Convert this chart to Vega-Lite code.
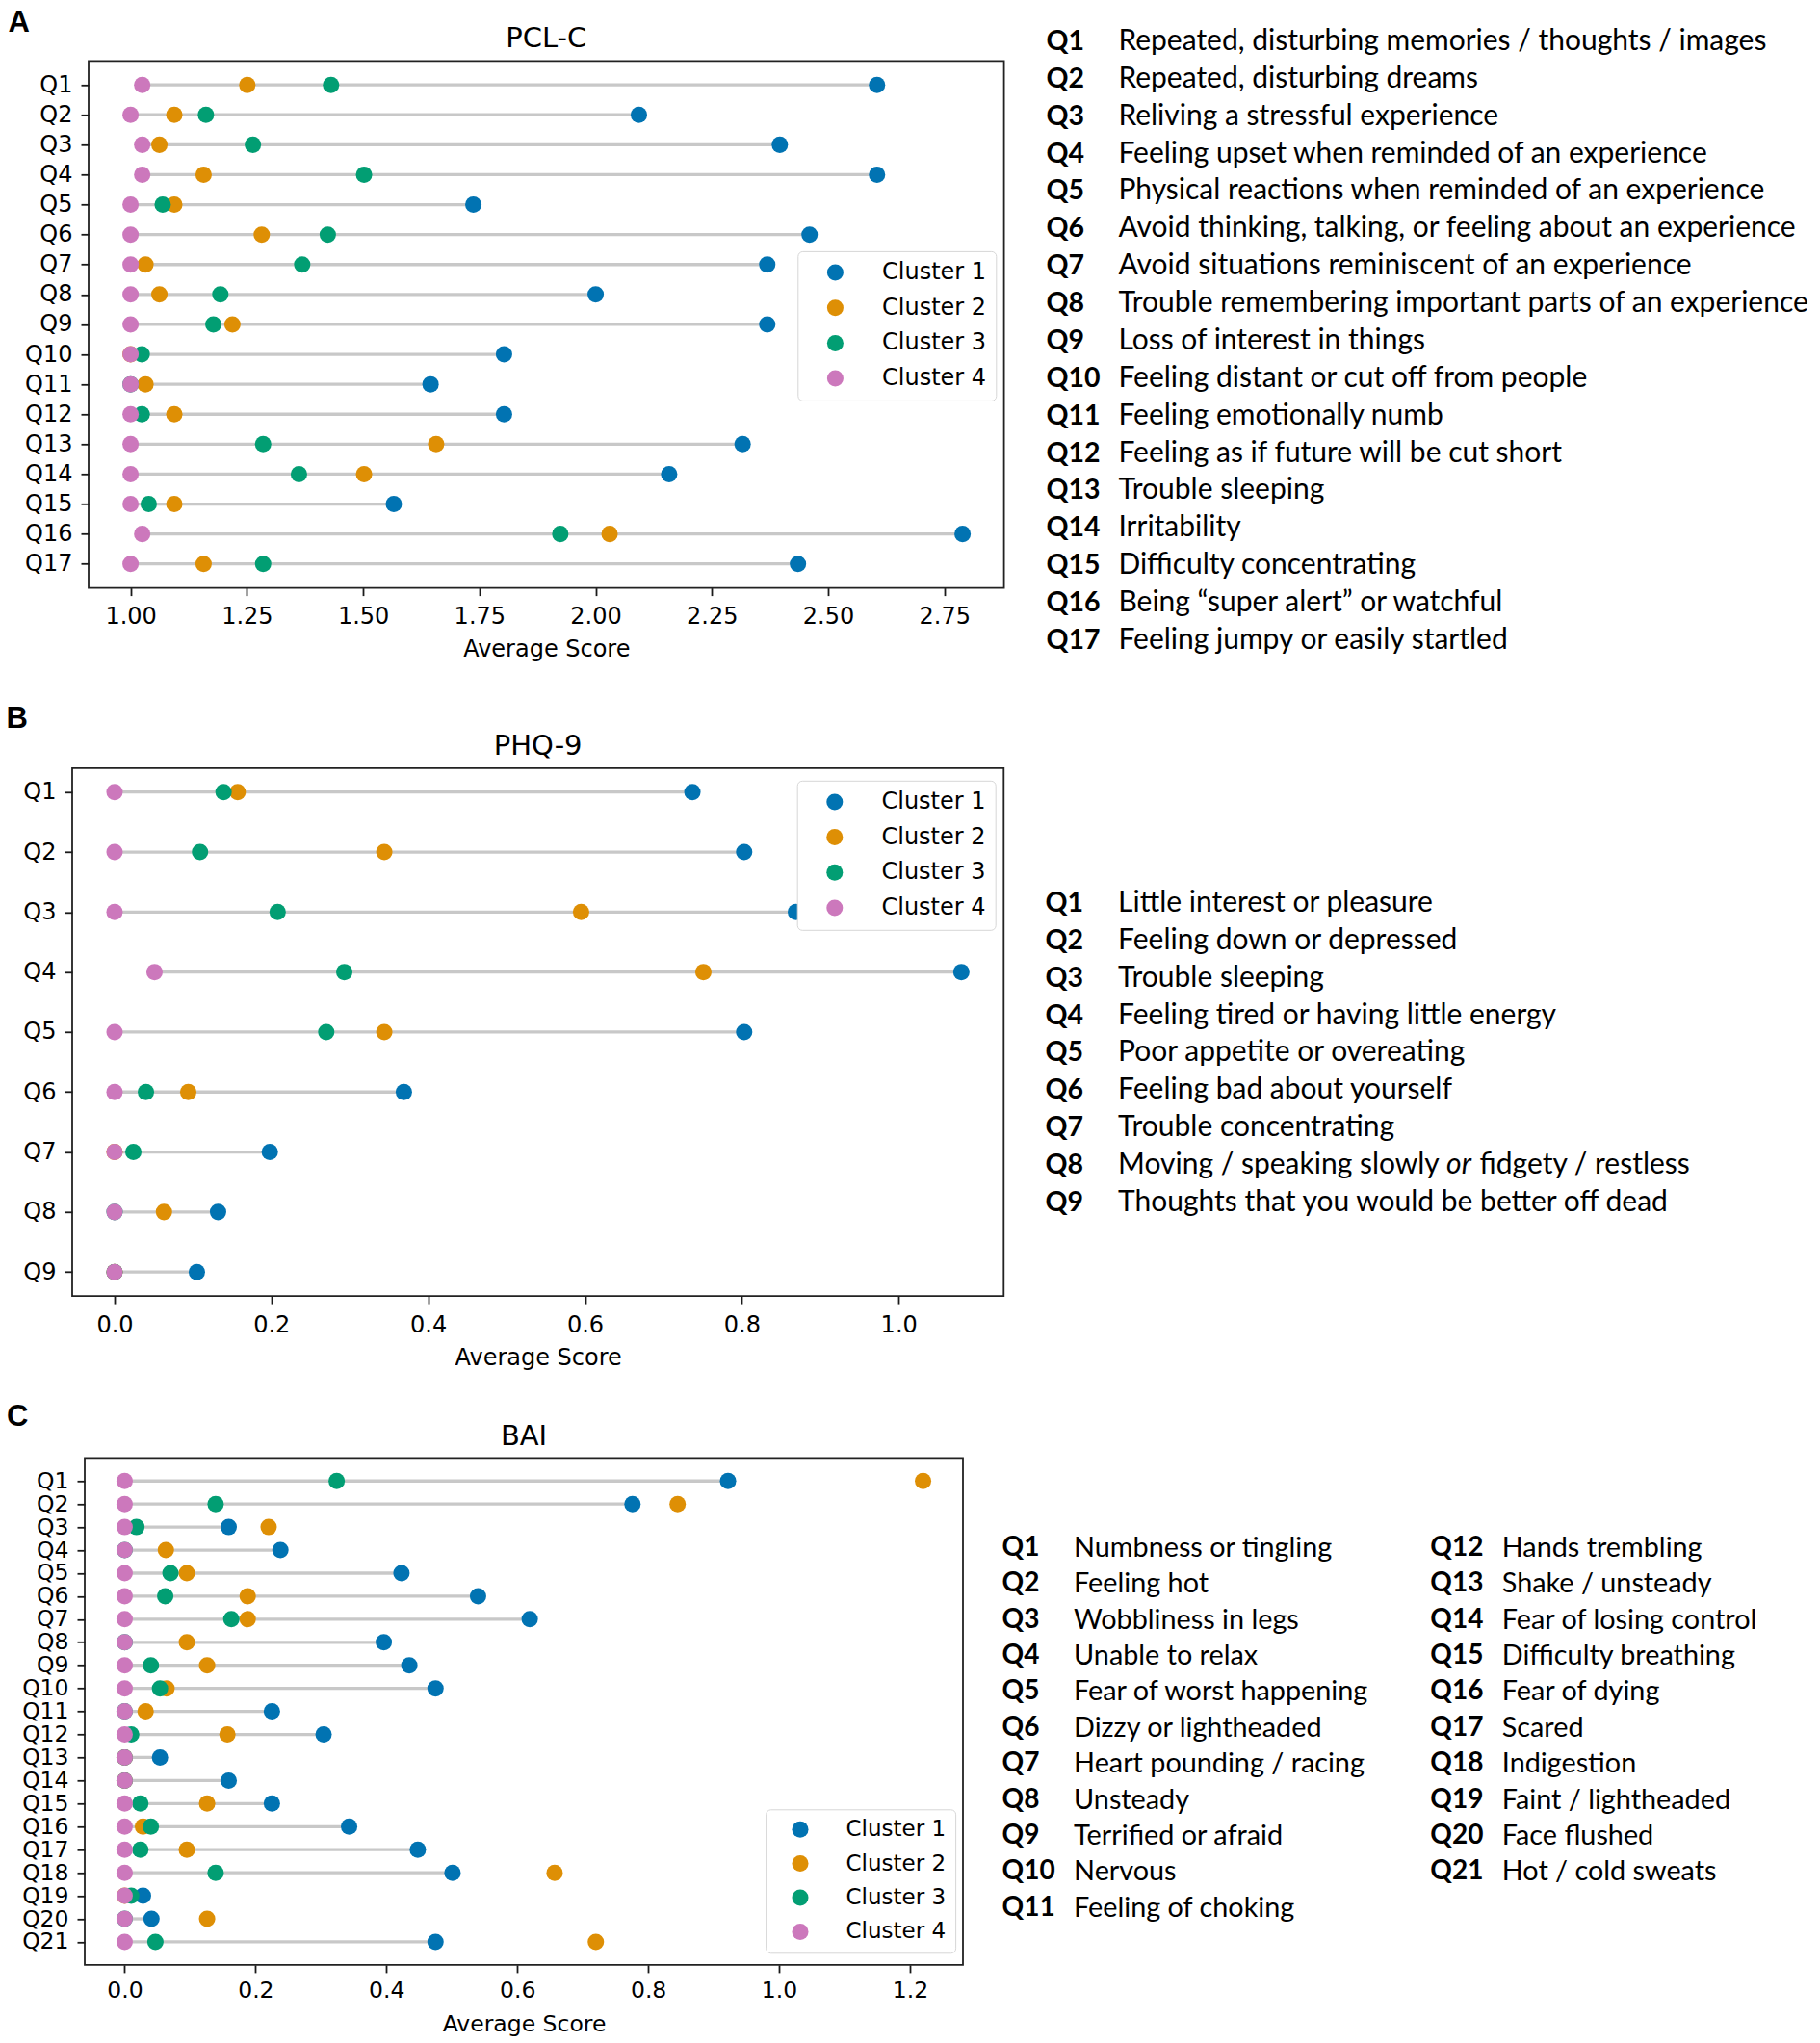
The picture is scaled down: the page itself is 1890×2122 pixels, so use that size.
{
"$schema":"https://vega.github.io/schema/vega-lite/v6.json",
"background":"white",
"padding":{"top":6.3,"left":0,"right":0,"bottom":0},
"config":{
 "font":"DejaVu Sans",
 "view":{"stroke":null},
 "axis":{"labelFont":"DejaVu Sans","labelFontSize":24,"labelColor":"#000","tickColor":"#1a1a1a","tickWidth":1.8,"tickSize":8,"domain":false,"grid":false,"titleFont":"DejaVu Sans","titleFontSize":24,"titleColor":"#000","titleFontWeight":"normal","labelOverlap":false,"labelFlush":false,"labelBound":false},
 "legend":{"title":null,"orient":"none","labelFont":"DejaVu Sans","labelColor":"#000","symbolType":"circle","symbolSize":290,"symbolStrokeWidth":0,"symbolOpacity":1,"fillColor":"white","strokeColor":"#d6d6d6","cornerRadius":5},
 "title":{"font":"DejaVu Sans","fontSize":29,"fontWeight":"normal","color":"#000","anchor":"middle","frame":"group","baseline":"alphabetic"}
},
"datasets":{
 "spacer":[{"s":0}],
 "pcl":[
  {"q":"Q1","cluster":"Cluster 1","score":2.605},{"q":"Q1","cluster":"Cluster 2","score":1.251},{"q":"Q1","cluster":"Cluster 3","score":1.431},{"q":"Q1","cluster":"Cluster 4","score":1.025},
  {"q":"Q2","cluster":"Cluster 1","score":2.093},{"q":"Q2","cluster":"Cluster 2","score":1.094},{"q":"Q2","cluster":"Cluster 3","score":1.162},{"q":"Q2","cluster":"Cluster 4","score":1.0},
  {"q":"Q3","cluster":"Cluster 1","score":2.396},{"q":"Q3","cluster":"Cluster 2","score":1.062},{"q":"Q3","cluster":"Cluster 3","score":1.263},{"q":"Q3","cluster":"Cluster 4","score":1.025},
  {"q":"Q4","cluster":"Cluster 1","score":2.605},{"q":"Q4","cluster":"Cluster 2","score":1.157},{"q":"Q4","cluster":"Cluster 3","score":1.502},{"q":"Q4","cluster":"Cluster 4","score":1.025},
  {"q":"Q5","cluster":"Cluster 1","score":1.737},{"q":"Q5","cluster":"Cluster 2","score":1.094},{"q":"Q5","cluster":"Cluster 3","score":1.069},{"q":"Q5","cluster":"Cluster 4","score":1.0},
  {"q":"Q6","cluster":"Cluster 1","score":2.46},{"q":"Q6","cluster":"Cluster 2","score":1.282},{"q":"Q6","cluster":"Cluster 3","score":1.424},{"q":"Q6","cluster":"Cluster 4","score":1.0},
  {"q":"Q7","cluster":"Cluster 1","score":2.369},{"q":"Q7","cluster":"Cluster 2","score":1.032},{"q":"Q7","cluster":"Cluster 3","score":1.369},{"q":"Q7","cluster":"Cluster 4","score":1.0},
  {"q":"Q8","cluster":"Cluster 1","score":2.0},{"q":"Q8","cluster":"Cluster 2","score":1.062},{"q":"Q8","cluster":"Cluster 3","score":1.193},{"q":"Q8","cluster":"Cluster 4","score":1.0},
  {"q":"Q9","cluster":"Cluster 1","score":2.369},{"q":"Q9","cluster":"Cluster 2","score":1.219},{"q":"Q9","cluster":"Cluster 3","score":1.178},{"q":"Q9","cluster":"Cluster 4","score":1.0},
  {"q":"Q10","cluster":"Cluster 1","score":1.803},{"q":"Q10","cluster":"Cluster 2","score":1.0},{"q":"Q10","cluster":"Cluster 3","score":1.024},{"q":"Q10","cluster":"Cluster 4","score":1.0},
  {"q":"Q11","cluster":"Cluster 1","score":1.645},{"q":"Q11","cluster":"Cluster 2","score":1.032},{"q":"Q11","cluster":"Cluster 3","score":1.0},{"q":"Q11","cluster":"Cluster 4","score":1.0},
  {"q":"Q12","cluster":"Cluster 1","score":1.803},{"q":"Q12","cluster":"Cluster 2","score":1.094},{"q":"Q12","cluster":"Cluster 3","score":1.024},{"q":"Q12","cluster":"Cluster 4","score":1.0},
  {"q":"Q13","cluster":"Cluster 1","score":2.316},{"q":"Q13","cluster":"Cluster 2","score":1.657},{"q":"Q13","cluster":"Cluster 3","score":1.285},{"q":"Q13","cluster":"Cluster 4","score":1.0},
  {"q":"Q14","cluster":"Cluster 1","score":2.158},{"q":"Q14","cluster":"Cluster 2","score":1.502},{"q":"Q14","cluster":"Cluster 3","score":1.362},{"q":"Q14","cluster":"Cluster 4","score":1.0},
  {"q":"Q15","cluster":"Cluster 1","score":1.566},{"q":"Q15","cluster":"Cluster 2","score":1.094},{"q":"Q15","cluster":"Cluster 3","score":1.039},{"q":"Q15","cluster":"Cluster 4","score":1.0},
  {"q":"Q16","cluster":"Cluster 1","score":2.789},{"q":"Q16","cluster":"Cluster 2","score":2.03},{"q":"Q16","cluster":"Cluster 3","score":1.924},{"q":"Q16","cluster":"Cluster 4","score":1.025},
  {"q":"Q17","cluster":"Cluster 1","score":2.435},{"q":"Q17","cluster":"Cluster 2","score":1.157},{"q":"Q17","cluster":"Cluster 3","score":1.285},{"q":"Q17","cluster":"Cluster 4","score":1.0}
 ],
 "phq":[
  {"q":"Q1","cluster":"Cluster 1","score":0.737},{"q":"Q1","cluster":"Cluster 2","score":0.157},{"q":"Q1","cluster":"Cluster 3","score":0.139},{"q":"Q1","cluster":"Cluster 4","score":0.0},
  {"q":"Q2","cluster":"Cluster 1","score":0.803},{"q":"Q2","cluster":"Cluster 2","score":0.344},{"q":"Q2","cluster":"Cluster 3","score":0.109},{"q":"Q2","cluster":"Cluster 4","score":0.0},
  {"q":"Q3","cluster":"Cluster 1","score":0.869},{"q":"Q3","cluster":"Cluster 2","score":0.595},{"q":"Q3","cluster":"Cluster 3","score":0.208},{"q":"Q3","cluster":"Cluster 4","score":0.0},
  {"q":"Q4","cluster":"Cluster 1","score":1.08},{"q":"Q4","cluster":"Cluster 2","score":0.751},{"q":"Q4","cluster":"Cluster 3","score":0.293},{"q":"Q4","cluster":"Cluster 4","score":0.051},
  {"q":"Q5","cluster":"Cluster 1","score":0.803},{"q":"Q5","cluster":"Cluster 2","score":0.344},{"q":"Q5","cluster":"Cluster 3","score":0.27},{"q":"Q5","cluster":"Cluster 4","score":0.0},
  {"q":"Q6","cluster":"Cluster 1","score":0.369},{"q":"Q6","cluster":"Cluster 2","score":0.094},{"q":"Q6","cluster":"Cluster 3","score":0.04},{"q":"Q6","cluster":"Cluster 4","score":0.0},
  {"q":"Q7","cluster":"Cluster 1","score":0.198},{"q":"Q7","cluster":"Cluster 2","score":0.0},{"q":"Q7","cluster":"Cluster 3","score":0.024},{"q":"Q7","cluster":"Cluster 4","score":0.0},
  {"q":"Q8","cluster":"Cluster 1","score":0.132},{"q":"Q8","cluster":"Cluster 2","score":0.063},{"q":"Q8","cluster":"Cluster 3","score":0.0},{"q":"Q8","cluster":"Cluster 4","score":0.0},
  {"q":"Q9","cluster":"Cluster 1","score":0.105},{"q":"Q9","cluster":"Cluster 2","score":0.0},{"q":"Q9","cluster":"Cluster 3","score":0.0},{"q":"Q9","cluster":"Cluster 4","score":0.0}
 ],
 "bai":[
  {"q":"Q1","cluster":"Cluster 1","score":0.922},{"q":"Q1","cluster":"Cluster 2","score":1.22},{"q":"Q1","cluster":"Cluster 3","score":0.324},{"q":"Q1","cluster":"Cluster 4","score":0.0},
  {"q":"Q2","cluster":"Cluster 1","score":0.776},{"q":"Q2","cluster":"Cluster 2","score":0.845},{"q":"Q2","cluster":"Cluster 3","score":0.139},{"q":"Q2","cluster":"Cluster 4","score":0.0},
  {"q":"Q3","cluster":"Cluster 1","score":0.159},{"q":"Q3","cluster":"Cluster 2","score":0.22},{"q":"Q3","cluster":"Cluster 3","score":0.018},{"q":"Q3","cluster":"Cluster 4","score":0.0},
  {"q":"Q4","cluster":"Cluster 1","score":0.238},{"q":"Q4","cluster":"Cluster 2","score":0.063},{"q":"Q4","cluster":"Cluster 3","score":0.0},{"q":"Q4","cluster":"Cluster 4","score":0.0},
  {"q":"Q5","cluster":"Cluster 1","score":0.423},{"q":"Q5","cluster":"Cluster 2","score":0.095},{"q":"Q5","cluster":"Cluster 3","score":0.07},{"q":"Q5","cluster":"Cluster 4","score":0.0},
  {"q":"Q6","cluster":"Cluster 1","score":0.54},{"q":"Q6","cluster":"Cluster 2","score":0.188},{"q":"Q6","cluster":"Cluster 3","score":0.062},{"q":"Q6","cluster":"Cluster 4","score":0.0},
  {"q":"Q7","cluster":"Cluster 1","score":0.619},{"q":"Q7","cluster":"Cluster 2","score":0.188},{"q":"Q7","cluster":"Cluster 3","score":0.163},{"q":"Q7","cluster":"Cluster 4","score":0.0},
  {"q":"Q8","cluster":"Cluster 1","score":0.396},{"q":"Q8","cluster":"Cluster 2","score":0.095},{"q":"Q8","cluster":"Cluster 3","score":0.0},{"q":"Q8","cluster":"Cluster 4","score":0.0},
  {"q":"Q9","cluster":"Cluster 1","score":0.435},{"q":"Q9","cluster":"Cluster 2","score":0.126},{"q":"Q9","cluster":"Cluster 3","score":0.04},{"q":"Q9","cluster":"Cluster 4","score":0.0},
  {"q":"Q10","cluster":"Cluster 1","score":0.475},{"q":"Q10","cluster":"Cluster 2","score":0.064},{"q":"Q10","cluster":"Cluster 3","score":0.054},{"q":"Q10","cluster":"Cluster 4","score":0.0},
  {"q":"Q11","cluster":"Cluster 1","score":0.225},{"q":"Q11","cluster":"Cluster 2","score":0.032},{"q":"Q11","cluster":"Cluster 3","score":0.0},{"q":"Q11","cluster":"Cluster 4","score":0.0},
  {"q":"Q12","cluster":"Cluster 1","score":0.304},{"q":"Q12","cluster":"Cluster 2","score":0.157},{"q":"Q12","cluster":"Cluster 3","score":0.01},{"q":"Q12","cluster":"Cluster 4","score":0.0},
  {"q":"Q13","cluster":"Cluster 1","score":0.054},{"q":"Q13","cluster":"Cluster 2","score":0.0},{"q":"Q13","cluster":"Cluster 3","score":0.0},{"q":"Q13","cluster":"Cluster 4","score":0.0},
  {"q":"Q14","cluster":"Cluster 1","score":0.159},{"q":"Q14","cluster":"Cluster 2","score":0.0},{"q":"Q14","cluster":"Cluster 3","score":0.0},{"q":"Q14","cluster":"Cluster 4","score":0.0},
  {"q":"Q15","cluster":"Cluster 1","score":0.225},{"q":"Q15","cluster":"Cluster 2","score":0.126},{"q":"Q15","cluster":"Cluster 3","score":0.024},{"q":"Q15","cluster":"Cluster 4","score":0.0},
  {"q":"Q16","cluster":"Cluster 1","score":0.343},{"q":"Q16","cluster":"Cluster 2","score":0.028},{"q":"Q16","cluster":"Cluster 3","score":0.04},{"q":"Q16","cluster":"Cluster 4","score":0.0},
  {"q":"Q17","cluster":"Cluster 1","score":0.448},{"q":"Q17","cluster":"Cluster 2","score":0.095},{"q":"Q17","cluster":"Cluster 3","score":0.024},{"q":"Q17","cluster":"Cluster 4","score":0.0},
  {"q":"Q18","cluster":"Cluster 1","score":0.501},{"q":"Q18","cluster":"Cluster 2","score":0.657},{"q":"Q18","cluster":"Cluster 3","score":0.139},{"q":"Q18","cluster":"Cluster 4","score":0.0},
  {"q":"Q19","cluster":"Cluster 1","score":0.028},{"q":"Q19","cluster":"Cluster 2","score":0.0},{"q":"Q19","cluster":"Cluster 3","score":0.01},{"q":"Q19","cluster":"Cluster 4","score":0.0},
  {"q":"Q20","cluster":"Cluster 1","score":0.041},{"q":"Q20","cluster":"Cluster 2","score":0.126},{"q":"Q20","cluster":"Cluster 3","score":0.0},{"q":"Q20","cluster":"Cluster 4","score":0.0},
  {"q":"Q21","cluster":"Cluster 1","score":0.475},{"q":"Q21","cluster":"Cluster 2","score":0.72},{"q":"Q21","cluster":"Cluster 3","score":0.047},{"q":"Q21","cluster":"Cluster 4","score":0.0}
 ],
 "pclText":[
  {"code":"Q1","col":1,"row":1,"label":"Repeated, disturbing memories / thoughts / images"},
  {"code":"Q2","col":1,"row":2,"label":"Repeated, disturbing dreams"},
  {"code":"Q3","col":1,"row":3,"label":"Reliving a stressful experience"},
  {"code":"Q4","col":1,"row":4,"label":"Feeling upset when reminded of an experience"},
  {"code":"Q5","col":1,"row":5,"label":"Physical reactions when reminded of an experience"},
  {"code":"Q6","col":1,"row":6,"label":"Avoid thinking, talking, or feeling about an experience"},
  {"code":"Q7","col":1,"row":7,"label":"Avoid situations reminiscent of an experience"},
  {"code":"Q8","col":1,"row":8,"label":"Trouble remembering important parts of an experience"},
  {"code":"Q9","col":1,"row":9,"label":"Loss of interest in things"},
  {"code":"Q10","col":1,"row":10,"label":"Feeling distant or cut off from people"},
  {"code":"Q11","col":1,"row":11,"label":"Feeling emotionally numb"},
  {"code":"Q12","col":1,"row":12,"label":"Feeling as if future will be cut short"},
  {"code":"Q13","col":1,"row":13,"label":"Trouble sleeping"},
  {"code":"Q14","col":1,"row":14,"label":"Irritability"},
  {"code":"Q15","col":1,"row":15,"label":"Difficulty concentrating"},
  {"code":"Q16","col":1,"row":16,"label":"Being “super alert” or watchful"},
  {"code":"Q17","col":1,"row":17,"label":"Feeling jumpy or easily startled"}
 ],
 "phqText":[
  {"code":"Q1","col":1,"row":1,"label":"Little interest or pleasure"},
  {"code":"Q2","col":1,"row":2,"label":"Feeling down or depressed"},
  {"code":"Q3","col":1,"row":3,"label":"Trouble sleeping"},
  {"code":"Q4","col":1,"row":4,"label":"Feeling tired or having little energy"},
  {"code":"Q5","col":1,"row":5,"label":"Poor appetite or overeating"},
  {"code":"Q6","col":1,"row":6,"label":"Feeling bad about yourself"},
  {"code":"Q7","col":1,"row":7,"label":"Trouble concentrating"},
  {"code":"Q8","col":1,"row":8,"label":"Moving / speaking slowly","it":"or","rest":"fidgety / restless"},
  {"code":"Q9","col":1,"row":9,"label":"Thoughts that you would be better off dead"}
 ],
 "baiText":[
  {"code":"Q1","col":1,"row":1,"label":"Numbness or tingling"},
  {"code":"Q2","col":1,"row":2,"label":"Feeling hot"},
  {"code":"Q3","col":1,"row":3,"label":"Wobbliness in legs"},
  {"code":"Q4","col":1,"row":4,"label":"Unable to relax"},
  {"code":"Q5","col":1,"row":5,"label":"Fear of worst happening"},
  {"code":"Q6","col":1,"row":6,"label":"Dizzy or lightheaded"},
  {"code":"Q7","col":1,"row":7,"label":"Heart pounding / racing"},
  {"code":"Q8","col":1,"row":8,"label":"Unsteady"},
  {"code":"Q9","col":1,"row":9,"label":"Terrified or afraid"},
  {"code":"Q10","col":1,"row":10,"label":"Nervous"},
  {"code":"Q11","col":1,"row":11,"label":"Feeling of choking"},
  {"code":"Q12","col":2,"row":1,"label":"Hands trembling"},
  {"code":"Q13","col":2,"row":2,"label":"Shake / unsteady"},
  {"code":"Q14","col":2,"row":3,"label":"Fear of losing control"},
  {"code":"Q15","col":2,"row":4,"label":"Difficulty breathing"},
  {"code":"Q16","col":2,"row":5,"label":"Fear of dying"},
  {"code":"Q17","col":2,"row":6,"label":"Scared"},
  {"code":"Q18","col":2,"row":7,"label":"Indigestion"},
  {"code":"Q19","col":2,"row":8,"label":"Faint / lightheaded"},
  {"code":"Q20","col":2,"row":9,"label":"Face flushed"},
  {"code":"Q21","col":2,"row":10,"label":"Hot / cold sweats"}
 ]
},
"columns":1,
"spacing":28.5,
"resolve":{"scale":{"color":"independent"},"legend":{"color":"independent"}},
"concat":[
 {"spacing":0,"resolve":{"scale":{"color":"independent"},"legend":{"color":"independent"}},"hconcat":[
  {"width":1,"height":1,"data":{"name":"spacer"},"mark":{"type":"text","text":""},"encoding":{}},
  {"width":950.6,"height":547.3,
   "view":{"stroke":"#222","strokeWidth":1.8},
   "title":{"text":"PCL-C","offset":-47.1},
   "data":{"name":"pcl"},
   "encoding":{"y":{"field":"q","type":"nominal","scale":{"type":"point","domain":["Q1","Q2","Q3","Q4","Q5","Q6","Q7","Q8","Q9","Q10","Q11","Q12","Q13","Q14","Q15","Q16","Q17"],"padding":0.8},
     "axis":{"title":"A","titleAngle":0,"titleAlign":"left","titleBaseline":"alphabetic","titleX":-84,"titleY":-30.4,"titleFont":"Liberation Sans","titleFontSize":31,"titleFontWeight":"bold","minExtent":89.7,"maxExtent":89.7,"labelPadding":9}}},
   "layer":[
    {"transform":[{"pivot":"cluster","value":"score","groupby":["q"]}],
     "mark":{"type":"rule","color":"#c8c8c8","strokeWidth":3.3},
     "encoding":{"x":{"field":"Cluster 4","type":"quantitative","scale":{"domain":[0.9097,2.878],"nice":false,"zero":false},"axis":{"title":"Average Score","values":[1,1.25,1.5,1.75,2,2.25,2.5,2.75],"format":".2f","labelPadding":10,"titleY":70.5,"titleBaseline":"alphabetic"}},"x2":{"field":"Cluster 1"}}},
    {"mark":{"type":"point","filled":true,"size":290,"opacity":1,"strokeWidth":0},
     "encoding":{"x":{"field":"score","type":"quantitative","scale":{"domain":[0.9097,2.878],"nice":false,"zero":false},"axis":{"title":"Average Score","values":[1,1.25,1.5,1.75,2,2.25,2.5,2.75],"format":".2f","labelPadding":10,"titleY":70.5,"titleBaseline":"alphabetic"}},
      "color":{"field":"cluster","type":"nominal","scale":{"domain":["Cluster 1","Cluster 2","Cluster 3","Cluster 4"],"range":["#0173b2","#de8f05","#029e73","#cc78bc"]},
       "legend":{"legendX":736.3,"legendY":197.6,"padding":10.1,"rowPadding":12.7,"symbolOffset":17,"labelOffset":36.7,"labelFontSize":24}}}}
   ]},
  {"width":500,"height":636.6,"data":{"name":"pclText"},
   "encoding":{"y":{"field":"row","type":"quantitative","scale":{"domain":[1.5248,17.901],"reverse":true,"nice":false,"zero":false},"axis":null},
     "x":{"field":"col","type":"ordinal","scale":{"type":"point","domain":[1],"padding":0,"align":0.0848},"axis":null}},
   "layer":[
    {"mark":{"type":"text","align":"left","baseline":"middle","font":"Lato","fontWeight":"bold","fontSize":28.5,"color":"#000"},"encoding":{"text":{"field":"code"}}},
    {"mark":{"type":"text","align":"left","baseline":"middle","font":"Lato","fontSize":30,"dx":75,"color":"#000"},"encoding":{"text":{"field":"label"}}}
   ]}
 ]},
 {"spacing":0,"resolve":{"scale":{"color":"independent"},"legend":{"color":"independent"}},"hconcat":[
  {"width":1,"height":1,"data":{"name":"spacer"},"mark":{"type":"text","text":""},"encoding":{}},
  {"width":967.3,"height":548.3,
   "view":{"stroke":"#222","strokeWidth":1.8},
   "title":{"text":"PHQ-9","offset":-59.8},
   "data":{"name":"phq"},
   "encoding":{"y":{"field":"q","type":"nominal","scale":{"type":"point","domain":["Q1","Q2","Q3","Q4","Q5","Q6","Q7","Q8","Q9"],"padding":0.4},
     "axis":{"title":"B","titleAngle":0,"titleAlign":"left","titleBaseline":"alphabetic","titleX":-69,"titleY":-42.4,"titleFont":"Liberation Sans","titleFontSize":31,"titleFontWeight":"bold","minExtent":73,"maxExtent":73,"labelPadding":9}}},
   "layer":[
    {"transform":[{"pivot":"cluster","value":"score","groupby":["q"]}],
     "mark":{"type":"rule","color":"#c8c8c8","strokeWidth":3.3},
     "encoding":{"x":{"field":"Cluster 4","type":"quantitative","scale":{"domain":[-0.054,1.134],"nice":false,"zero":false},"axis":{"title":"Average Score","values":[0,0.2,0.4,0.6,0.8,1.0],"format":".1f","labelPadding":10,"titleY":71.5,"titleBaseline":"alphabetic"}},"x2":{"field":"Cluster 1"}}},
    {"mark":{"type":"point","filled":true,"size":290,"opacity":1,"strokeWidth":0},
     "encoding":{"x":{"field":"score","type":"quantitative","scale":{"domain":[-0.054,1.134],"nice":false,"zero":false},"axis":{"title":"Average Score","values":[0,0.2,0.4,0.6,0.8,1.0],"format":".1f","labelPadding":10,"titleY":71.5,"titleBaseline":"alphabetic"}},
      "color":{"field":"cluster","type":"nominal","scale":{"domain":["Cluster 1","Cluster 2","Cluster 3","Cluster 4"],"range":["#0173b2","#de8f05","#029e73","#cc78bc"]},
       "legend":{"legendX":752.7,"legendY":13,"padding":10.1,"rowPadding":12.7,"symbolOffset":17,"labelOffset":36.7,"labelFontSize":24}}}}
   ]},
  {"width":500,"height":628,"data":{"name":"phqText"},
   "encoding":{"y":{"field":"row","type":"quantitative","scale":{"domain":[-2.6097,13.559],"reverse":true,"nice":false,"zero":false},"axis":null},
     "x":{"field":"col","type":"ordinal","scale":{"type":"point","domain":[1],"padding":0,"align":0.0832},"axis":null}},
   "layer":[
    {"mark":{"type":"text","align":"left","baseline":"middle","font":"Lato","fontWeight":"bold","fontSize":28.5,"color":"#000"},"encoding":{"text":{"field":"code"}}},
    {"mark":{"type":"text","align":"left","baseline":"middle","font":"Lato","fontSize":30,"dx":75.5,"color":"#000"},"encoding":{"text":{"field":"label"}}},
    {"transform":[{"filter":"isValid(datum.it)"}],"mark":{"type":"text","align":"left","baseline":"middle","font":"Lato","fontStyle":"italic","fontSize":30,"dx":416.5,"color":"#000"},"encoding":{"text":{"field":"it"}}},
    {"transform":[{"filter":"isValid(datum.rest)"}],"mark":{"type":"text","align":"left","baseline":"middle","font":"Lato","fontSize":30,"dx":451,"color":"#000"},"encoding":{"text":{"field":"rest"}}}
   ]}
 ]},
 {"spacing":0,"resolve":{"scale":{"color":"independent"},"legend":{"color":"independent"}},"hconcat":[
  {"width":1,"height":1,"data":{"name":"spacer"},"mark":{"type":"text","text":""},"encoding":{}},
  {"width":912,"height":526.6,
   "view":{"stroke":"#222","strokeWidth":1.8},
   "title":{"text":"BAI","offset":-50.6},
   "data":{"name":"bai"},
   "encoding":{"y":{"field":"q","type":"nominal","scale":{"type":"point","domain":["Q1","Q2","Q3","Q4","Q5","Q6","Q7","Q8","Q9","Q10","Q11","Q12","Q13","Q14","Q15","Q16","Q17","Q18","Q19","Q20","Q21"],"padding":1.0},
     "axis":{"title":"C","titleAngle":0,"titleAlign":"left","titleBaseline":"alphabetic","titleX":-81.5,"titleY":-33.3,"titleFont":"Liberation Sans","titleFontSize":31,"titleFontWeight":"bold","minExtent":85.3,"maxExtent":85.3,"labelPadding":9,"labelFontSize":23.5}}},
   "layer":[
    {"transform":[{"pivot":"cluster","value":"score","groupby":["q"]}],
     "mark":{"type":"rule","color":"#c8c8c8","strokeWidth":3.3},
     "encoding":{"x":{"field":"Cluster 4","type":"quantitative","scale":{"domain":[-0.061,1.281],"nice":false,"zero":false},"axis":{"title":"Average Score","values":[0,0.2,0.4,0.6,0.8,1.0,1.2],"format":".1f","labelPadding":6.5,"labelFontSize":23.5,"titleFontSize":23.5,"titleY":68.5,"titleBaseline":"alphabetic"}},"x2":{"field":"Cluster 1"}}},
    {"mark":{"type":"point","filled":true,"size":290,"opacity":1,"strokeWidth":0},
     "encoding":{"x":{"field":"score","type":"quantitative","scale":{"domain":[-0.061,1.281],"nice":false,"zero":false},"axis":{"title":"Average Score","values":[0,0.2,0.4,0.6,0.8,1.0,1.2],"format":".1f","labelPadding":6.5,"labelFontSize":23.5,"titleFontSize":23.5,"titleY":68.5,"titleBaseline":"alphabetic"}},
      "color":{"field":"cluster","type":"nominal","scale":{"domain":["Cluster 1","Cluster 2","Cluster 3","Cluster 4"],"range":["#0173b2","#de8f05","#029e73","#cc78bc"]},
       "legend":{"legendX":707.1,"legendY":365,"padding":9.4,"rowPadding":11.4,"symbolOffset":15,"labelOffset":36,"labelFontSize":23}}}}
   ]},
  {"width":523.9,"height":526.6,"data":{"name":"baiText"},
   "encoding":{"y":{"field":"row","type":"quantitative","scale":{"domain":[-1.4993,12.577],"reverse":true,"nice":false,"zero":false},"axis":null},
     "x":{"field":"col","type":"ordinal","scale":{"type":"point","domain":[1,2],"padding":0.08905},"axis":null}},
   "layer":[
    {"mark":{"type":"text","align":"left","baseline":"middle","font":"Lato","fontWeight":"bold","fontSize":28,"color":"#000"},"encoding":{"text":{"field":"code"}}},
    {"mark":{"type":"text","align":"left","baseline":"middle","font":"Lato","fontSize":28.8,"dx":74.5,"color":"#000"},"encoding":{"text":{"field":"label"}}}
   ]}
 ]}
]
}
